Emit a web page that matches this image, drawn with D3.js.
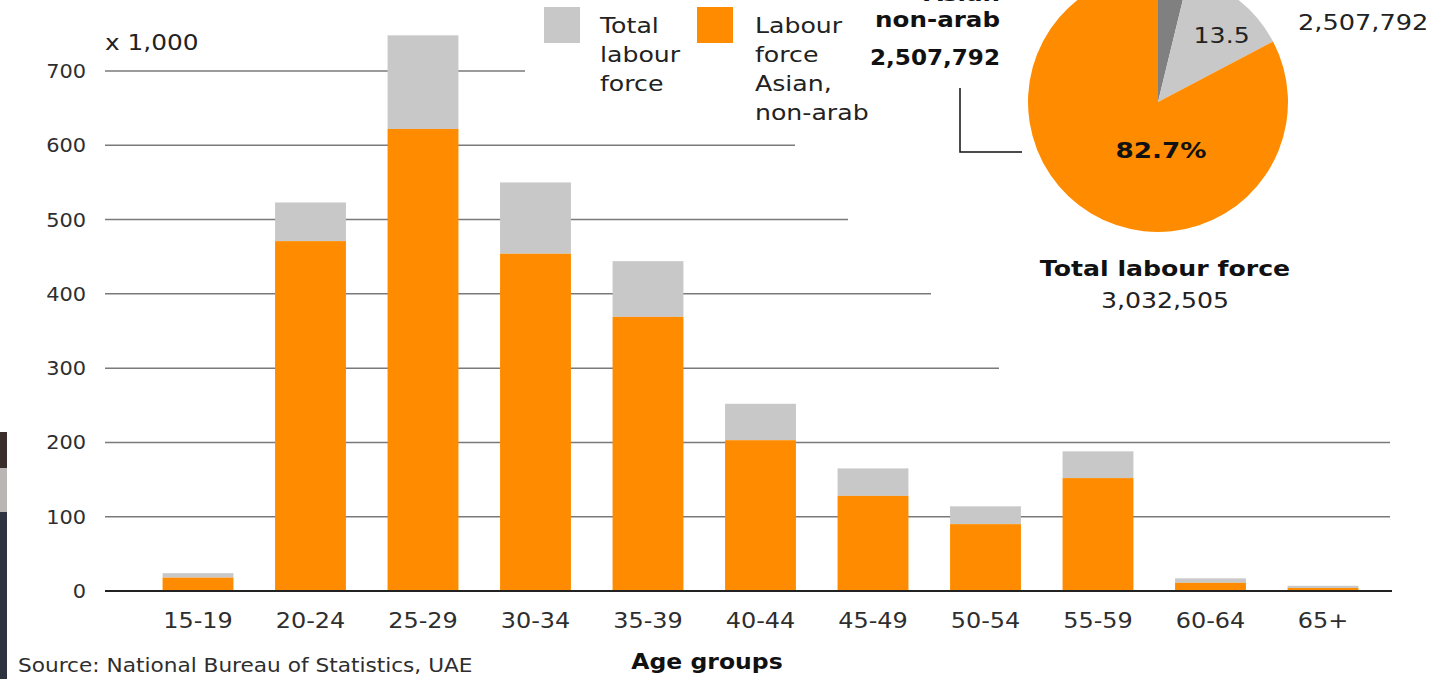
<!DOCTYPE html>
<html>
<head>
<meta charset="utf-8">
<script src="https://cdn.jsdelivr.net/npm/d3@7/dist/d3.min.js"></script>
<style>
  html, body { margin: 0; padding: 0; background: #fff; }
  svg { display: block; }
  text { font-family: "DejaVu Sans", Verdana, sans-serif; }
</style>
</head>
<body>
<svg id="chart" width="1456" height="679"></svg>
<script>
// ---------- data ----------
const ageGroups = ["15-19","20-24","25-29","30-34","35-39","40-44","45-49","50-54","55-59","60-64","65+"];
const totalLabour = [24, 523, 748, 550, 444, 252, 165, 114, 188, 17, 7];      // x 1,000
const asianNonArab = [18, 471, 622, 454, 369, 203, 128, 90, 152, 11, 4];     // x 1,000
const yTicks = [0, 100, 200, 300, 400, 500, 600, 700];
const pieLabels = ["Other", "Total labour force (rest)", "Asian, non-arab"];
const pieShares = [3.8, 13.5, 82.7];

// ---------- layout / style ----------
const svg = d3.select("#chart");
const orange = "#ff8c00", grey = "#c8c8c8", darkGrey = "#808080";
const gridStart = 105;
const gridEnds = {0: 1392, 100: 1390, 200: 1390, 300: 999, 400: 931, 500: 848, 600: 795, 700: 525};

const y = d3.scaleLinear().domain([0, 700]).range([591, 71]);
const x = d3.scaleBand().domain(ageGroups).range([141.75, 1379.25]).paddingInner(0.37).paddingOuter(0.185);

// text helper: the reference lettering is slightly stretched horizontally
function txt(g, px, py, str, o = {}) {
  const size = o.size || 22;
  const width = o.w || 1.17 * 21;           // effective horizontal size
  return g.append("text")
    .attr("transform", `translate(${px},${py}) scale(${width / size},1)`)
    .attr("text-anchor", o.anchor || "start")
    .attr("font-size", size)
    .attr("font-weight", o.bold ? "bold" : "normal")
    .attr("fill", o.fill || (o.bold ? "#111" : "#222"))
    .text(str);
}

// screenshot artefact strip at left edge
svg.append("rect").attr("x", 0).attr("y", 432).attr("width", 7).attr("height", 247).attr("fill", "#2e3340");
svg.append("rect").attr("x", 0).attr("y", 432).attr("width", 7).attr("height", 36).attr("fill", "#3a2e2a");
svg.append("rect").attr("x", 0).attr("y", 468).attr("width", 7).attr("height", 44).attr("fill", "#b9b6b4");

// gridlines
svg.append("g").selectAll("line").data(yTicks.filter(d => d > 0)).join("line")
  .attr("x1", gridStart).attr("x2", d => gridEnds[d])
  .attr("y1", d => y(d)).attr("y2", d => y(d))
  .attr("stroke", "#7a7a7a").attr("stroke-width", 1.5);

// y tick labels
const yl = svg.append("g");
yTicks.forEach(d => txt(yl, 86, y(d) + 7, d, {anchor: "end", size: 20, w: 1.1 * 19, fill: "#2e2e2e"}));

txt(svg, 105, 50, "x 1,000", {size: 22, w: 1.18 * 21});

// bars
const rows = ageGroups.map((g, i) => ({g, total: totalLabour[i], asian: asianNonArab[i]}));
const bars = svg.append("g");
bars.selectAll("rect.tot").data(rows).join("rect").attr("class", "tot")
  .attr("x", d => x(d.g)).attr("width", x.bandwidth())
  .attr("y", d => y(d.total)).attr("height", d => y(d.asian) - y(d.total))
  .attr("fill", grey);
bars.selectAll("rect.asn").data(rows).join("rect").attr("class", "asn")
  .attr("x", d => x(d.g)).attr("width", x.bandwidth())
  .attr("y", d => y(d.asian)).attr("height", d => y(0) - y(d.asian))
  .attr("fill", orange);

// baseline axis
svg.append("line").attr("x1", gridStart).attr("x2", gridEnds[0]).attr("y1", y(0)).attr("y2", y(0))
  .attr("stroke", "#222").attr("stroke-width", 2);

// x labels
const xl = svg.append("g");
ageGroups.forEach(d => txt(xl, x(d) + x.bandwidth() / 2, 628, d, {anchor: "middle", size: 22, w: 1.14 * 21, fill: "#2e2e2e"}));

txt(svg, 707, 669, "Age groups", {anchor: "middle", size: 22, bold: true, w: 1.12 * 21});
txt(svg, 18, 672, "Source: National Bureau of Statistics, UAE", {size: 20, w: 1.14 * 19, fill: "#2e2e2e"});

// legend
svg.append("rect").attr("x", 544).attr("y", 7).attr("width", 36).attr("height", 36).attr("fill", grey);
svg.append("rect").attr("x", 697).attr("y", 7).attr("width", 36).attr("height", 36).attr("fill", orange);
const legLines1 = ["Total", "labour", "force"];
const legLines2 = ["Labour", "force", "Asian,", "non-arab"];
const lg = svg.append("g");
legLines1.forEach((d, i) => txt(lg, 600, 33 + i * 29, d, {size: 22, w: 1.2 * 21}));
legLines2.forEach((d, i) => txt(lg, 755, 33 + i * 29, d, {size: 22, w: 1.2 * 21}));

// pie
const cx = 1158, cy = 102, r = 130;
const pie = d3.pie().sort(null).value(d => d)(pieShares);
const arc = d3.arc().innerRadius(0).outerRadius(r);
const pieColors = [darkGrey, grey, orange];
const pg = svg.append("g").attr("transform", `translate(${cx},${cy})`);
pg.selectAll("path").data(pie).join("path").attr("d", arc).attr("fill", (d, i) => pieColors[i]);
const labelArc = d3.arc().innerRadius(92).outerRadius(92);
const c1 = labelArc.centroid(pie[1]);
txt(pg, c1[0] + 7, c1[1] + 14, pieShares[1], {anchor: "middle", size: 22, w: 1.2 * 21});
txt(pg, 3, 56, pieShares[2] + "%", {anchor: "middle", size: 22, bold: true, w: 1.25 * 21});

// pie annotations
txt(svg, 1000, 1, "Asian", {anchor: "end", size: 22, bold: true});
txt(svg, 1000, 27, "non-arab", {anchor: "end", size: 22, bold: true});
txt(svg, 1000, 65, "2,507,792", {anchor: "end", size: 22, bold: true, w: 1.1 * 21});
svg.append("path").attr("d", "M960,88 V152 H1022").attr("fill", "none").attr("stroke", "#111").attr("stroke-width", 1.5);
txt(svg, 1298, 30, "2,507,792", {size: 22, w: 1.22 * 21});

txt(svg, 1165, 276, "Total labour force", {anchor: "middle", size: 22, bold: true, w: 1.2 * 21});
txt(svg, 1165, 308, "3,032,505", {anchor: "middle", size: 22, w: 1.2 * 21});
</script>
</body>
</html>
